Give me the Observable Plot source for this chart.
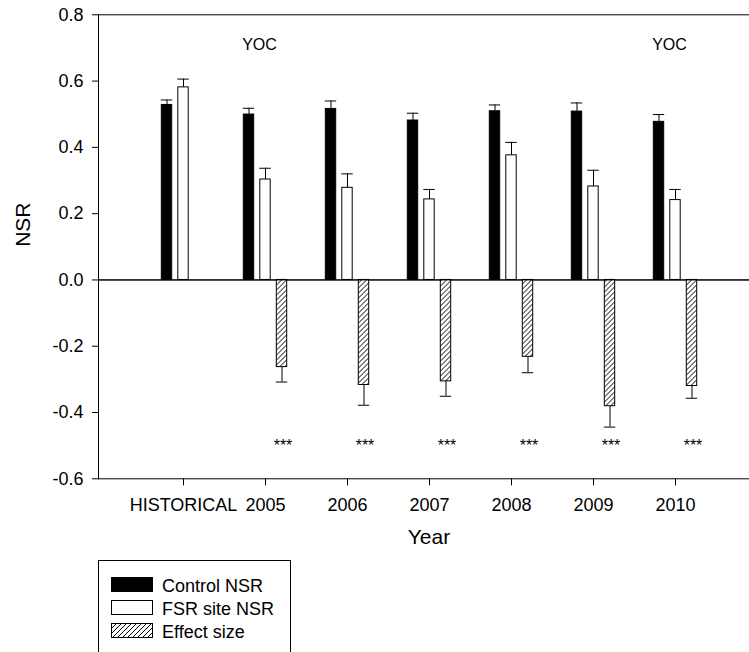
<!DOCTYPE html>
<html>
<head>
<meta charset="utf-8">
<script src="https://cdn.jsdelivr.net/npm/d3@7"></script>
<script src="https://cdn.jsdelivr.net/npm/@observablehq/plot@0.6"></script>
<style>
  html, body { margin: 0; padding: 0; background: #fff; }
  #chart svg { display: block; }
  #legend svg { display: block; }
</style>
</head>
<body>
<div id="chart"></div>
<div id="legend"></div>
<script>
// ---- Data ----
const categories = ["HISTORICAL", "2005", "2006", "2007", "2008", "2009", "2010"];
const controlNSR = [0.528, 0.499, 0.516, 0.481, 0.509, 0.508, 0.477];
const controlErr = [0.015, 0.019, 0.024, 0.022, 0.019, 0.026, 0.022];
const fsrNSR     = [0.581, 0.303, 0.278, 0.243, 0.376, 0.282, 0.241];
const fsrErr     = [0.025, 0.034, 0.042, 0.030, 0.039, 0.049, 0.032];
const effectSize = [null, -0.263, -0.317, -0.306, -0.232, -0.381, -0.320];
const effectErr  = [null, 0.045, 0.061, 0.045, 0.048, 0.063, 0.037];
const sigLabels  = ["", "***", "***", "***", "***", "***", "***"];
const sigLevel   = -0.5;
const yocYears   = ["2005", "2010"];
const yocLevel   = 0.71;
const yTicks     = [-0.6, -0.4, -0.2, 0.0, 0.2, 0.4, 0.6, 0.8];
const seriesNames = ["Control NSR", "FSR site NSR", "Effect size"];

// ---- Tables built from the arrays ----
const control = categories.map((c, i) => ({cat: c, v: controlNSR[i], e: controlErr[i]}));
const fsr = categories.map((c, i) => ({cat: c, v: fsrNSR[i], e: fsrErr[i]}));
const effect = categories.map((c, i) => ({cat: c, v: effectSize[i], e: effectErr[i]})).filter(d => d.v != null);
const sig = categories.map((c, i) => ({cat: c, label: sigLabels[i]})).filter(d => d.label);
const yoc = yocYears.map(c => ({cat: c, label: "YOC"}));

const FONT = "Arial, 'Liberation Sans', sans-serif";
const barInset = 35.8;   // leaves ~11px wide bars in an ~82.6px band
const capInset = 35.3;
const offs = [-16.5, 0, 16.5];

function errMarks(data, dx, dir) {
  return [
    Plot.ruleX(data, {x: "cat", y1: d => d.v, y2: d => d.v + dir * d.e, dx, stroke: "black", strokeWidth: 1}),
    Plot.tickY(data, {x: "cat", y: d => d.v + dir * d.e, dx, insetLeft: capInset, insetRight: capInset, stroke: "black", strokeWidth: 1})
  ];
}

const plot = Plot.plot({
  width: 749,
  height: 560,
  marginLeft: 98,
  marginRight: 0,
  marginTop: 14.3,
  marginBottom: 81.7,
  style: {fontFamily: FONT, fontSize: "18px", color: "black", background: "white"},
  x: {
    domain: categories,
    range: [98, 759],
    paddingInner: 0,
    paddingOuter: 0.5,
    label: null,
    tickSize: 7,
    tickPadding: 12
  },
  y: {
    domain: [-0.6, 0.8],
    ticks: yTicks,
    tickFormat: d => d.toFixed(1),
    label: null,
    line: true,
    tickSize: 6,
    tickPadding: 9
  },
  marks: [
    Plot.ruleY([0.8, 0, -0.6], {stroke: "black", strokeWidth: 1}),
    ...errMarks(control, offs[0], 1),
    ...errMarks(fsr, offs[1], 1),
    ...errMarks(effect, offs[2], -1),
    Plot.barY(control, {x: "cat", y: "v", dx: offs[0], insetLeft: barInset, insetRight: barInset, fill: "black", stroke: "black", strokeWidth: 1}),
    Plot.barY(fsr, {x: "cat", y: "v", dx: offs[1], insetLeft: barInset, insetRight: barInset, fill: "white", stroke: "black", strokeWidth: 1}),
    Plot.barY(effect, {x: "cat", y: "v", dx: offs[2], insetLeft: barInset, insetRight: barInset, fill: "url(#hatch)", stroke: "black", strokeWidth: 1}),
    Plot.ruleY([0], {stroke: "black", strokeWidth: 1}),
    Plot.text(sig, {x: "cat", y: sigLevel, text: "label", dx: offs[2] + 1, fontSize: 16, fill: "black"}),
    Plot.text(yoc, {x: "cat", y: yocLevel, text: "label", dx: -6, fontSize: 16, fill: "black"}),
    Plot.text(["NSR"], {text: d => d, frameAnchor: "left", dx: -75, rotate: -90, fontSize: 21, fill: "black"}),
    Plot.text(["Year"], {text: d => d, frameAnchor: "bottom", dx: 5, dy: 65, fontSize: 21, fill: "black"})
  ]
});

// hatch pattern for the effect-size bars
const defs = d3.select(plot).insert("defs", ":first-child");
const pat = defs.append("pattern")
  .attr("id", "hatch")
  .attr("patternUnits", "userSpaceOnUse")
  .attr("width", 5).attr("height", 5);
pat.append("rect").attr("width", 5).attr("height", 5).attr("fill", "white");
pat.append("path")
  .attr("d", "M-1,1 l2,-2 M0,5 l5,-5 M4,6 l2,-2")
  .attr("stroke", "black").attr("stroke-width", 1);

document.getElementById("chart").appendChild(plot);

// ---- Legend (below the chart) ----
const lg = d3.select("#legend").append("svg")
  .attr("width", 749).attr("height", 92)
  .style("font-family", FONT);
const lpat = lg.append("defs").append("pattern")
  .attr("id", "hatchL")
  .attr("patternUnits", "userSpaceOnUse")
  .attr("width", 5).attr("height", 5);
lpat.append("rect").attr("width", 5).attr("height", 5).attr("fill", "white");
lpat.append("path")
  .attr("d", "M-1,1 l2,-2 M0,5 l5,-5 M4,6 l2,-2")
  .attr("stroke", "black").attr("stroke-width", 1);

lg.append("rect")
  .attr("x", 98.5).attr("y", 0.5).attr("width", 192).attr("height", 200)
  .attr("fill", "none").attr("stroke", "black").attr("stroke-width", 1);
const fills = ["black", "white", "url(#hatchL)"];
seriesNames.forEach((name, i) => {
  const y = 17.5 + i * 23;
  lg.append("rect")
    .attr("x", 111.5).attr("y", y).attr("width", 41).attr("height", 14)
    .attr("fill", fills[i]).attr("stroke", "black").attr("stroke-width", 1);
  lg.append("text")
    .attr("x", 162).attr("y", y + 14)
    .attr("font-size", 18)
    .attr("fill", "black")
    .text(name);
});
</script>
</body>
</html>
